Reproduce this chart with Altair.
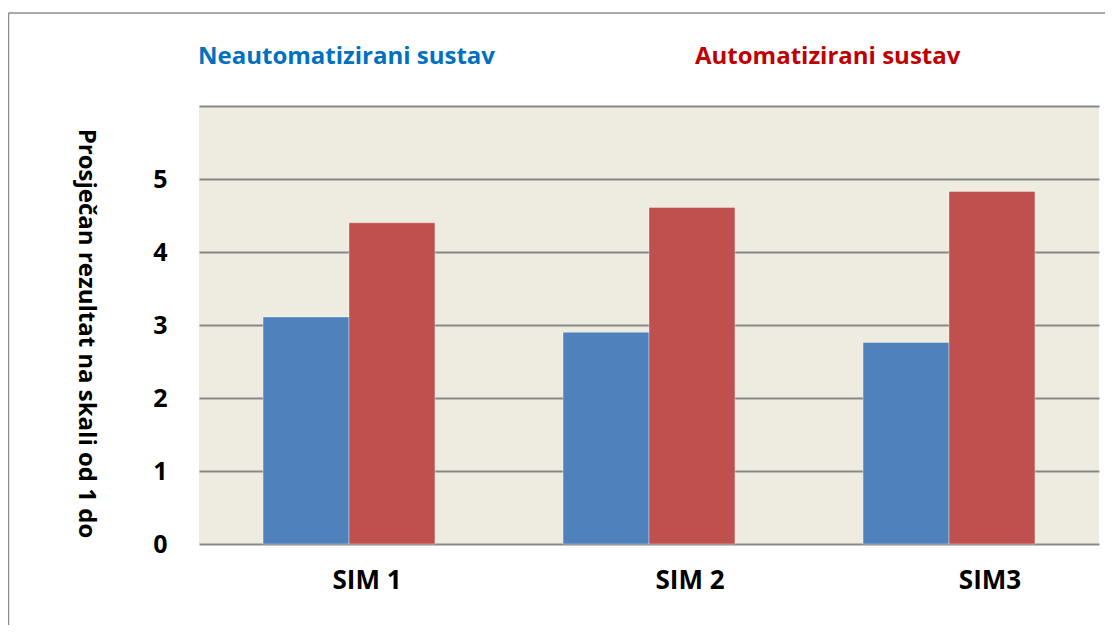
import altair as alt
import pandas as pd

sims = ["SIM 1", "SIM 2", "SIM3"]
series = ["Neautomatizirani sustav", "Automatizirani sustav"]
neaut = [3.11, 2.90, 2.76]
aut = [4.40, 4.61, 4.83]
bar_colors = ["#4F81BD", "#C0504D"]
label_colors = ["#0070C0", "#C00000"]
y_title = "Prosječan rezultat na skali od 1 do"
y_ticks = [0, 1, 2, 3, 4, 5, 6]

rows = []
for i, s in enumerate(sims):
    rows.append({"sim": s, "serija": series[0], "v": neaut[i]})
    rows.append({"sim": s, "serija": series[1], "v": aut[i]})
df = pd.DataFrame(rows)

FONT = "Open Sans"

bars = alt.Chart(df).mark_bar(stroke="#ffffff", strokeOpacity=0.35, strokeWidth=1).encode(
    x=alt.X("sim:N", sort=sims,
            scale=alt.Scale(paddingInner=0.427, paddingOuter=0.2135),
            axis=alt.Axis(title=None, labelAngle=0, domain=False, ticks=False, tickSize=0,
                          labelFont=FONT, labelFontWeight="bold", labelFontSize=26,
                          labelColor="#000000", labelPadding=23,
                          labelOffset={"condition": {"test": "datum.value === 'SIM 1'", "value": 18},
                                       "value": 41})),
    xOffset=alt.XOffset("serija:N", sort=series, scale=alt.Scale(paddingInner=0, paddingOuter=0)),
    y=alt.Y("v:Q", scale=alt.Scale(domain=[0, 6], nice=False),
            axis=alt.Axis(title=y_title, values=y_ticks,
                          labelExpr="datum.value == 6 ? '' : datum.label",
                          domain=False, ticks=False, tickSize=0,
                          grid=True, gridColor="#878787", gridWidth=2,
                          labelFont=FONT, labelFontWeight="bold", labelFontSize=25,
                          labelColor="#000000", labelPadding=32, labelBaseline="middle",
                          titleFont=FONT, titleFontWeight="bold", titleFontSize=24,
                          titleColor="#000000", titleAngle=90, titleAlign="center",
                          titleBaseline="middle", titleX=-114, titleY=227)),
    color=alt.Color("serija:N", sort=series,
                    scale=alt.Scale(domain=series, range=bar_colors), legend=None),
)

one = pd.DataFrame({"a": [0]})
frame_left = alt.Chart(one).mark_rule(color="#8c8c8c", strokeWidth=1.5).encode(
    x=alt.value(-190.5), y=alt.value(-93), y2=alt.value(540))
frame_top = alt.Chart(one).mark_rule(color="#8c8c8c", strokeWidth=1.5).encode(
    x=alt.value(-190.5), x2=alt.value(920), y=alt.value(-93))

lab1 = alt.Chart(pd.DataFrame({"t": [series[0]]})).mark_text(
    align="left", baseline="middle", font=FONT, fontWeight="bold", fontSize=24,
    color=label_colors[0]).encode(text="t:N", x=alt.value(-1), y=alt.value(-49))
lab2 = alt.Chart(pd.DataFrame({"t": [series[1]]})).mark_text(
    align="left", baseline="middle", font=FONT, fontWeight="bold", fontSize=24,
    color=label_colors[1]).encode(text="t:N", x=alt.value(496), y=alt.value(-49))

chart = alt.layer(bars, frame_left, frame_top, lab1, lab2).properties(
    width=900, height=438,
    background="#ffffff",
    autosize=alt.AutoSizeParams(type="none"),
    padding={"left": 191, "top": 98, "right": 6, "bottom": 81},
).configure_view(fill="#EEECE1", stroke=None)

chart.save("out.html", embed_options={"renderer": "svg", "actions": False})
